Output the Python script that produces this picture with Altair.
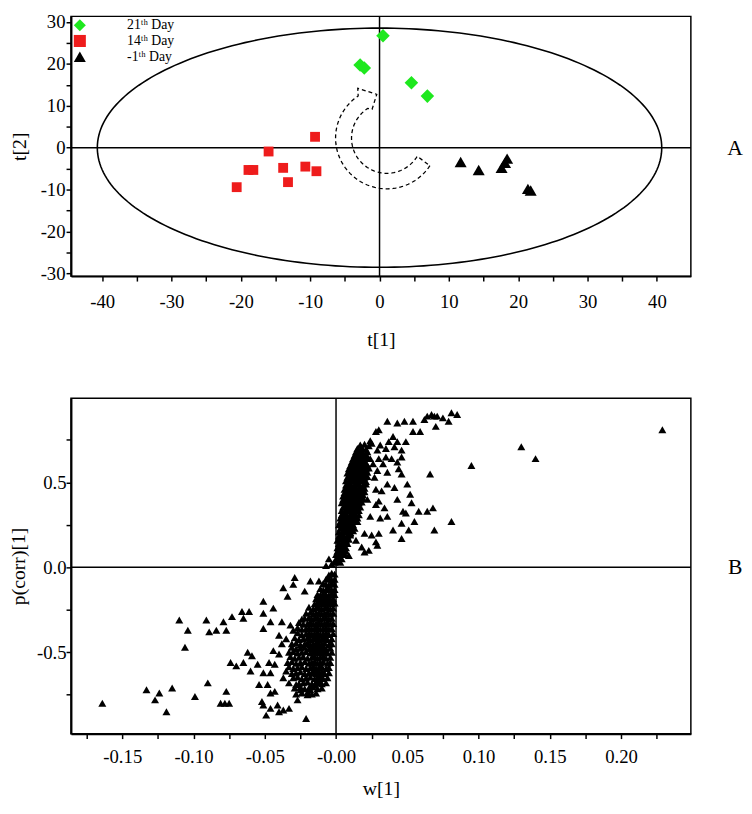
import altair as alt
import numpy as np
import pandas as pd

FONT = "Liberation Serif"

# ---------------- Panel A : score plot ----------------
groups = ["21ᵗʰ Day", "14ᵗʰ Day", "-1ᵗʰ Day"]
group_colors = ["#1ee81e", "#ee1c1c", "#000000"]
group_shapes = ["diamond", "square", "triangle-up"]
group_sizes = [190, 100, 150]

day21_t1 = [-2.8, -2.2, 0.5, 4.6, 6.9]
day21_t2 = [19.7, 19.0, 26.7, 15.5, 12.3]
day14_t1 = [-9.3, -16.0, -18.9, -18.2, -13.9, -10.7, -9.1, -13.2, -20.6]
day14_t2 = [2.6, -0.9, -5.3, -5.3, -4.8, -4.5, -5.6, -8.2, -9.4]
daym1_t1 = [11.7, 14.3, 18.4, 18.1, 17.6, 21.4, 21.8]
daym1_t2 = [-3.4, -5.3, -2.6, -3.6, -4.8, -9.8, -10.2]

t1_domain = [-44.5, 44.9]
t2_domain = [-30.6, 31.3]
t1_ticks = [-40, -35, -30, -25, -20, -15, -10, -5, 0, 5, 10, 15, 20, 25, 30, 35, 40]
t1_label_values = [-40, -30, -20, -10, 0, 10, 20, 30, 40]
t1_labels = ["-40", "-30", "-20", "-10", "0", "10", "20", "30", "40"]
t2_ticks = [-30, -25, -20, -15, -10, -5, 0, 5, 10, 15, 20, 25, 30]
t2_label_values = [-30, -20, -10, 0, 10, 20, 30]
t2_labels = ["-30", "-20", "-10", "0", "10", "20", "30"]

# Hotelling T2 ellipse radii
ellipse_rx = 40.7
ellipse_ry = 28.5

# dashed curved arrow (centre and radii in t1/t2 units)
arrow_center = (1.06, 2.3)
arrow_outer = (7.4, 12.1)
arrow_inner = (5.1, 8.4)
arrow_head_out = (8.4, 13.7)
arrow_head_tip = (6.5, 10.7)
arrow_head_in = (4.7, 7.7)

# ---------------- Panel B : loading plot (w[1], p(corr)[1]) ----------------
upper_scatter = [
    (0.036, 0.86), (0.043, 0.85), (0.048, 0.86), (0.054, 0.86), (0.062, 0.87), (0.064, 0.89),
    (0.067, 0.90), (0.069, 0.89), (0.071, 0.89), (0.075, 0.88), (0.079, 0.86), (0.081, 0.91),
    (0.085, 0.90), (0.070, 0.83), (0.054, 0.80), (0.059, 0.80), (0.030, 0.81), (0.040, 0.77),
    (0.037, 0.74), (0.043, 0.74), (0.049, 0.74), (0.031, 0.72), (0.041, 0.71), (0.046, 0.69),
    (0.035, 0.65), (0.039, 0.64), (0.046, 0.65), (0.030, 0.64), (0.043, 0.62), (0.033, 0.61),
    (0.044, 0.58), (0.046, 0.55), (0.066, 0.55), (0.095, 0.60), (0.130, 0.71), (0.140, 0.64),
    (0.229, 0.81), (0.029, 0.57), (0.036, 0.56), (0.050, 0.49), (0.041, 0.47), (0.032, 0.45),
    (0.052, 0.43), (0.043, 0.40), (0.030, 0.39), (0.053, 0.38), (0.049, 0.32), (0.058, 0.33),
    (0.064, 0.33), (0.068, 0.35), (0.036, 0.30), (0.031, 0.29), (0.055, 0.27), (0.046, 0.26),
    (0.081, 0.27), (0.040, 0.22), (0.051, 0.22), (0.069, 0.22), (0.046, 0.17), (0.030, 0.20),
    (0.029, 0.13), (0.028, 0.80), (0.025, 0.73), (0.029, 0.69), (0.035, 0.70), (0.016, 0.64),
    (0.022, 0.65), (0.018, 0.63), (0.026, 0.61), (0.027, 0.53), (0.036, 0.49), (0.028, 0.46),
    (0.022, 0.40), (0.028, 0.37), (0.034, 0.35), (0.047, 0.33), (0.024, 0.30), (0.014, 0.16),
    (0.018, 0.12), (0.023, 0.10), (0.028, 0.15), (0.025, 0.19), (0.020, 0.09), (0.009, 0.07),
    (0.010, 0.20), (0.020, 0.20), (-0.007, 0.01), (-0.005, 0.05), (-0.003, 0.02),
]
upper_core = [
    (-0.001, 0.03), (0.001, 0.035), (0.003, 0.03),
    (0.000, 0.05), (0.002, 0.055), (0.004, 0.05),
    (0.000, 0.075), (0.002, 0.07), (0.004, 0.08), (0.006, 0.075),
    (0.001, 0.095), (0.003, 0.10), (0.005, 0.09), (0.007, 0.095),
    (0.001, 0.115), (0.003, 0.12), (0.005, 0.11), (0.007, 0.115),
    (0.002, 0.14), (0.004, 0.135), (0.006, 0.145), (0.008, 0.14),
    (0.001, 0.16), (0.003, 0.165), (0.005, 0.155), (0.007, 0.16), (0.009, 0.165),
    (0.002, 0.185), (0.004, 0.19), (0.006, 0.18), (0.008, 0.185), (0.010, 0.19),
    (0.002, 0.21), (0.004, 0.205), (0.006, 0.215), (0.008, 0.21), (0.010, 0.205), (0.012, 0.215),
    (0.003, 0.23), (0.005, 0.235), (0.007, 0.225), (0.009, 0.23), (0.011, 0.235), (0.013, 0.23),
    (0.002, 0.25), (0.004, 0.255), (0.006, 0.245), (0.008, 0.25), (0.010, 0.255), (0.012, 0.25),
    (0.003, 0.27), (0.005, 0.265), (0.007, 0.275), (0.009, 0.27), (0.011, 0.265), (0.013, 0.275), (0.015, 0.27),
    (0.003, 0.29), (0.005, 0.295), (0.007, 0.285), (0.009, 0.29), (0.011, 0.295), (0.013, 0.285), (0.015, 0.29),
    (0.004, 0.31), (0.006, 0.315), (0.008, 0.305), (0.010, 0.31), (0.012, 0.315), (0.014, 0.305), (0.016, 0.31),
    (0.004, 0.335), (0.006, 0.33), (0.008, 0.34), (0.010, 0.335), (0.012, 0.33), (0.014, 0.34), (0.016, 0.335),
    (0.005, 0.355), (0.007, 0.36), (0.009, 0.35), (0.011, 0.355), (0.013, 0.36), (0.015, 0.35), (0.017, 0.355),
    (0.004, 0.38), (0.006, 0.385), (0.008, 0.375), (0.010, 0.38), (0.012, 0.385), (0.014, 0.375), (0.016, 0.38), (0.018, 0.385),
    (0.005, 0.40), (0.007, 0.405), (0.009, 0.395), (0.011, 0.40), (0.013, 0.405), (0.015, 0.395), (0.017, 0.40), (0.019, 0.405),
    (0.005, 0.42), (0.007, 0.425), (0.009, 0.415), (0.011, 0.42), (0.013, 0.425), (0.015, 0.415), (0.017, 0.42), (0.019, 0.425),
    (0.006, 0.44), (0.008, 0.445), (0.010, 0.435), (0.012, 0.44), (0.014, 0.445), (0.016, 0.435), (0.018, 0.44), (0.020, 0.445),
    (0.006, 0.46), (0.008, 0.465), (0.010, 0.455), (0.012, 0.46), (0.014, 0.465), (0.016, 0.455), (0.018, 0.46), (0.020, 0.465),
    (0.007, 0.485), (0.009, 0.49), (0.011, 0.48), (0.013, 0.485), (0.015, 0.49), (0.017, 0.48), (0.019, 0.485), (0.021, 0.49),
    (0.007, 0.51), (0.009, 0.505), (0.011, 0.515), (0.013, 0.51), (0.015, 0.505), (0.017, 0.515), (0.019, 0.51), (0.021, 0.505),
    (0.008, 0.53), (0.010, 0.535), (0.012, 0.525), (0.014, 0.53), (0.016, 0.535), (0.018, 0.525), (0.020, 0.53), (0.022, 0.535),
    (0.008, 0.555), (0.010, 0.56), (0.012, 0.55), (0.014, 0.555), (0.016, 0.56), (0.018, 0.55), (0.020, 0.555), (0.022, 0.56),
    (0.009, 0.58), (0.011, 0.585), (0.013, 0.575), (0.015, 0.58), (0.017, 0.585), (0.019, 0.575), (0.021, 0.58), (0.023, 0.585),
    (0.010, 0.60), (0.012, 0.605), (0.014, 0.595), (0.016, 0.60), (0.018, 0.605), (0.020, 0.595), (0.022, 0.60),
    (0.011, 0.62), (0.013, 0.625), (0.015, 0.615), (0.017, 0.62), (0.019, 0.625), (0.021, 0.615),
    (0.012, 0.64), (0.014, 0.645), (0.016, 0.635), (0.018, 0.64), (0.020, 0.645), (0.024, 0.64),
    (0.013, 0.66), (0.015, 0.665), (0.017, 0.655), (0.019, 0.66), (0.021, 0.665),
    (0.014, 0.68), (0.017, 0.685), (0.019, 0.675), (0.022, 0.68),
    (0.015, 0.70), (0.018, 0.705), (0.021, 0.695),
    (0.017, 0.72), (0.020, 0.725), (0.023, 0.715), (0.024, 0.745),
]
lower_core = [
    (-0.001, -0.04), (-0.003, -0.035), (-0.005, -0.045),
    (-0.001, -0.07), (-0.003, -0.075), (-0.005, -0.065), (-0.007, -0.07),
    (-0.001, -0.10), (-0.003, -0.095), (-0.005, -0.105), (-0.007, -0.10), (-0.009, -0.095),
    (-0.001, -0.13), (-0.003, -0.135), (-0.005, -0.125), (-0.007, -0.13), (-0.009, -0.135), (-0.011, -0.125),
    (-0.001, -0.16), (-0.003, -0.155), (-0.005, -0.165), (-0.007, -0.16), (-0.009, -0.155), (-0.011, -0.165), (-0.013, -0.16),
    (-0.002, -0.185), (-0.004, -0.19), (-0.006, -0.18), (-0.008, -0.185), (-0.010, -0.19), (-0.012, -0.18), (-0.014, -0.185),
    (-0.001, -0.21), (-0.003, -0.215), (-0.005, -0.205), (-0.007, -0.21), (-0.009, -0.215), (-0.011, -0.205), (-0.013, -0.21), (-0.015, -0.215),
    (-0.002, -0.24), (-0.004, -0.245), (-0.006, -0.235), (-0.008, -0.24), (-0.010, -0.245), (-0.012, -0.235), (-0.014, -0.24), (-0.016, -0.245), (-0.019, -0.235),
    (-0.002, -0.27), (-0.004, -0.275), (-0.006, -0.265), (-0.008, -0.27), (-0.010, -0.275), (-0.012, -0.265), (-0.014, -0.27), (-0.016, -0.275), (-0.018, -0.265), (-0.021, -0.27),
    (-0.003, -0.30), (-0.005, -0.305), (-0.007, -0.295), (-0.009, -0.30), (-0.011, -0.305), (-0.013, -0.295), (-0.015, -0.30), (-0.017, -0.305), (-0.019, -0.295), (-0.022, -0.30), (-0.024, -0.305),
    (-0.002, -0.33), (-0.004, -0.335), (-0.006, -0.325), (-0.008, -0.33), (-0.010, -0.335), (-0.012, -0.325), (-0.014, -0.33), (-0.016, -0.335), (-0.018, -0.325), (-0.020, -0.33), (-0.023, -0.335), (-0.026, -0.325),
    (-0.003, -0.36), (-0.005, -0.365), (-0.007, -0.355), (-0.009, -0.36), (-0.011, -0.365), (-0.013, -0.355), (-0.015, -0.36), (-0.017, -0.365), (-0.019, -0.355), (-0.021, -0.36), (-0.024, -0.365), (-0.027, -0.355),
    (-0.002, -0.39), (-0.005, -0.395), (-0.007, -0.385), (-0.009, -0.39), (-0.011, -0.395), (-0.013, -0.385), (-0.015, -0.39), (-0.017, -0.395), (-0.019, -0.385), (-0.021, -0.39), (-0.024, -0.395), (-0.027, -0.385),
    (-0.003, -0.42), (-0.006, -0.425), (-0.008, -0.415), (-0.010, -0.42), (-0.012, -0.425), (-0.014, -0.415), (-0.016, -0.42), (-0.018, -0.425), (-0.020, -0.415), (-0.023, -0.42), (-0.026, -0.425), (-0.029, -0.415),
    (-0.003, -0.45), (-0.005, -0.455), (-0.008, -0.445), (-0.010, -0.45), (-0.012, -0.455), (-0.014, -0.445), (-0.016, -0.45), (-0.018, -0.455), (-0.020, -0.445), (-0.022, -0.45), (-0.025, -0.455), (-0.028, -0.445), (-0.031, -0.45),
    (-0.004, -0.475), (-0.007, -0.48), (-0.009, -0.47), (-0.011, -0.475), (-0.013, -0.48), (-0.015, -0.47), (-0.017, -0.475), (-0.019, -0.48), (-0.022, -0.47), (-0.025, -0.475), (-0.028, -0.48), (-0.031, -0.47),
    (-0.003, -0.50), (-0.006, -0.505), (-0.008, -0.495), (-0.010, -0.50), (-0.012, -0.505), (-0.014, -0.495), (-0.016, -0.50), (-0.018, -0.505), (-0.021, -0.495), (-0.024, -0.50), (-0.027, -0.505), (-0.030, -0.495), (-0.033, -0.50),
    (-0.004, -0.53), (-0.007, -0.535), (-0.009, -0.525), (-0.011, -0.53), (-0.013, -0.535), (-0.015, -0.525), (-0.017, -0.53), (-0.020, -0.535), (-0.023, -0.525), (-0.026, -0.53), (-0.029, -0.535), (-0.032, -0.525),
    (-0.004, -0.56), (-0.006, -0.565), (-0.009, -0.555), (-0.011, -0.56), (-0.013, -0.565), (-0.015, -0.555), (-0.017, -0.56), (-0.019, -0.565), (-0.022, -0.555), (-0.025, -0.56), (-0.028, -0.565), (-0.031, -0.555), (-0.034, -0.56),
    (-0.005, -0.59), (-0.007, -0.595), (-0.010, -0.585), (-0.012, -0.59), (-0.014, -0.595), (-0.016, -0.585), (-0.018, -0.59), (-0.021, -0.595), (-0.024, -0.585), (-0.027, -0.59), (-0.030, -0.595), (-0.033, -0.585),
    (-0.005, -0.62), (-0.008, -0.625), (-0.010, -0.615), (-0.012, -0.62), (-0.014, -0.625), (-0.016, -0.615), (-0.019, -0.62), (-0.022, -0.625), (-0.025, -0.615), (-0.028, -0.62), (-0.031, -0.625),
    (-0.006, -0.65), (-0.009, -0.655), (-0.011, -0.645), (-0.013, -0.65), (-0.015, -0.655), (-0.018, -0.645), (-0.021, -0.65), (-0.024, -0.655), (-0.027, -0.645), (-0.030, -0.65),
    (-0.007, -0.68), (-0.010, -0.685), (-0.012, -0.675), (-0.014, -0.68), (-0.017, -0.685), (-0.020, -0.675), (-0.023, -0.68), (-0.026, -0.685),
    (-0.010, -0.71), (-0.013, -0.715), (-0.016, -0.705), (-0.019, -0.71), (-0.022, -0.715), (-0.025, -0.705), (-0.029, -0.71),
    (-0.014, -0.74), (-0.017, -0.745), (-0.020, -0.735), (-0.024, -0.74), (-0.028, -0.745),
]
lower_scatter = [
    (-0.164, -0.80), (-0.133, -0.72), (-0.127, -0.78), (-0.124, -0.74), (-0.119, -0.85), (-0.115, -0.71),
    (-0.099, -0.76), (-0.090, -0.68), (-0.081, -0.80), (-0.078, -0.80), (-0.075, -0.80), (-0.077, -0.73),
    (-0.110, -0.31), (-0.104, -0.37), (-0.106, -0.47), (-0.091, -0.31), (-0.089, -0.38), (-0.084, -0.37),
    (-0.079, -0.32), (-0.077, -0.37), (-0.073, -0.29), (-0.066, -0.26), (-0.065, -0.30), (-0.061, -0.26),
    (-0.074, -0.56), (-0.070, -0.58), (-0.065, -0.56), (-0.062, -0.50), (-0.059, -0.52), (-0.055, -0.57),
    (-0.060, -0.61), (-0.051, -0.20), (-0.051, -0.27), (-0.044, -0.24), (-0.051, -0.36), (-0.046, -0.32),
    (-0.038, -0.32), (-0.037, -0.12), (-0.034, -0.17), (-0.029, -0.06), (-0.030, -0.10), (-0.018, -0.08),
    (-0.022, -0.14), (-0.012, -0.08), (-0.054, -0.69), (-0.048, -0.69), (-0.046, -0.74), (-0.043, -0.73),
    (-0.052, -0.79), (-0.051, -0.81), (-0.046, -0.83), (-0.041, -0.81), (-0.040, -0.85), (-0.037, -0.84),
    (-0.033, -0.83), (-0.049, -0.87), (-0.027, -0.78), (-0.021, -0.89), (-0.020, -0.75), (-0.051, -0.62),
    (-0.046, -0.62), (-0.043, -0.57), (-0.040, -0.51), (-0.047, -0.56), (-0.044, -0.49), (-0.037, -0.65),
    (-0.033, -0.68), (-0.035, -0.61), (-0.028, -0.69), (-0.025, -0.72), (-0.018, -0.72), (-0.015, -0.69),
    (-0.013, -0.61), (-0.017, -0.62), (-0.038, -0.45), (-0.040, -0.40), (-0.035, -0.42), (-0.032, -0.34),
    (-0.030, -0.37),
]

w_domain = [-0.186, 0.249]
p_domain = [-0.979, 0.996]
w_ticks = [-0.175, -0.15, -0.125, -0.1, -0.075, -0.05, -0.025, 0.0, 0.025, 0.05, 0.075, 0.1, 0.125, 0.15, 0.175, 0.2, 0.225]
w_label_values = [-0.15, -0.1, -0.05, 0.0, 0.05, 0.1, 0.15, 0.2]
w_labels = ["-0.15", "-0.10", "-0.05", "-0.00", "0.05", "0.10", "0.15", "0.20"]
p_ticks = [-0.75, -0.5, -0.25, 0.0, 0.25, 0.5, 0.75]
p_label_values = [-0.5, 0.0, 0.5]
p_labels = ["-0.5", "0.0", "0.5"]


def label_expr(values, labels):
    parts = [f"abs(datum.value - ({v})) < 1e-6 ? '{l}'" for v, l in zip(values, labels)]
    return " : ".join(parts) + " : ''"


# ---------------- build tables ----------------
dfA = pd.DataFrame({
    "t1": day21_t1 + day14_t1 + daym1_t1,
    "t2": day21_t2 + day14_t2 + daym1_t2,
    "group": [groups[0]] * len(day21_t1) + [groups[1]] * len(day14_t1) + [groups[2]] * len(daym1_t1),
})

theta = np.linspace(0, 2 * np.pi, 241)
df_ell = pd.DataFrame({"t1": ellipse_rx * np.cos(theta), "t2": ellipse_ry * np.sin(theta), "o": np.arange(len(theta))})


def arc_pt(r, phi):
    a = np.deg2rad(phi)
    return (arrow_center[0] + r[0] * np.cos(a), arrow_center[1] - r[1] * np.sin(a))


arrow_pts = [arc_pt(arrow_outer, ph) for ph in np.linspace(33, 236, 70)]
arrow_pts += [arc_pt(arrow_head_out, 240), arc_pt(arrow_head_tip, 257), arc_pt(arrow_head_in, 243)]
arrow_pts += [arc_pt(arrow_inner, ph) for ph in np.linspace(237, 31, 70)]
arrow_pts += [arrow_pts[0]]
df_arrow = pd.DataFrame({"t1": [p[0] for p in arrow_pts], "t2": [p[1] for p in arrow_pts], "o": np.arange(len(arrow_pts))})

all_load = upper_scatter + upper_core + lower_core + lower_scatter
dfB = pd.DataFrame({"w": [p[0] for p in all_load], "p": [p[1] for p in all_load]})

# ---------------- Panel A chart ----------------
xA = alt.X("t1:Q", scale=alt.Scale(domain=t1_domain, nice=False, zero=False),
           axis=alt.Axis(title="t[1]", values=t1_ticks, labelExpr=label_expr(t1_label_values, t1_labels),
                         labelPadding=12, titlePadding=18))
yA = alt.Y("t2:Q", scale=alt.Scale(domain=t2_domain, nice=False, zero=False),
           axis=alt.Axis(title="t[2]", values=t2_ticks, labelExpr=label_expr(t2_label_values, t2_labels),
                         labelPadding=1, titlePadding=11))

legA = alt.Legend(title=None, orient="none", legendX=2, legendY=2, labelFont=FONT, labelFontSize=14,
                  labelColor="black", labelOffset=41, symbolSize=150, rowPadding=2, padding=0,
                  symbolStrokeWidth=0)
colorA = alt.Color("group:N", scale=alt.Scale(domain=groups, range=group_colors), legend=legA)
shapeA = alt.Shape("group:N", scale=alt.Scale(domain=groups, range=group_shapes), legend=legA)

ellipse = alt.Chart(df_ell).mark_line(color="black", strokeWidth=1.6).encode(x=xA, y=yA, order="o:Q")
vrule = alt.Chart(pd.DataFrame({"t1": [0]})).mark_rule(color="black", strokeWidth=1.5).encode(x=xA)
hrule = alt.Chart(pd.DataFrame({"t2": [0]})).mark_rule(color="black", strokeWidth=1.5).encode(y=yA)
arrow = alt.Chart(df_arrow).mark_line(color="black", strokeWidth=1.3, strokeDash=[4, 3]).encode(
    x=xA, y=yA, order="o:Q")
point_layers = [
    alt.Chart(dfA[dfA["group"] == g]).mark_point(filled=True, opacity=1, size=s).encode(
        x=xA, y=yA, color=colorA, shape=shapeA)
    for g, s in zip(groups, group_sizes)
]
textA = alt.Chart(pd.DataFrame({"lab": ["A"]})).mark_text(font=FONT, fontSize=22, color="black").encode(
    x=alt.value(675), y=alt.value(134), text="lab:N")

top = alt.layer(ellipse, vrule, hrule, arrow, *point_layers, textA).properties(width=630, height=264)

# ---------------- Panel B chart ----------------
xB = alt.X("w:Q", scale=alt.Scale(domain=w_domain, nice=False, zero=False),
           axis=alt.Axis(title="w[1]", values=w_ticks, labelExpr=label_expr(w_label_values, w_labels),
                         labelPadding=9, titlePadding=13))
yB = alt.Y("p:Q", scale=alt.Scale(domain=p_domain, nice=False, zero=False),
           axis=alt.Axis(title="p(corr)[1]", values=p_ticks, labelExpr=label_expr(p_label_values, p_labels),
                         labelPadding=0, titlePadding=8))

pointsB = alt.Chart(dfB).mark_point(shape="triangle-up", filled=True, color="black", opacity=1, size=66).encode(
    x=xB, y=yB)
vruleB = alt.Chart(pd.DataFrame({"w": [0]})).mark_rule(color="black", strokeWidth=1.5).encode(x=xB)
hruleB = alt.Chart(pd.DataFrame({"p": [0]})).mark_rule(color="black", strokeWidth=1.5).encode(y=yB)
textB = alt.Chart(pd.DataFrame({"lab": ["B"]})).mark_text(font=FONT, fontSize=22, color="black").encode(
    x=alt.value(675), y=alt.value(171.5), text="lab:N")

bottom = alt.layer(vruleB, hruleB, pointsB, textB).properties(width=630, height=341)

chart = alt.vconcat(top, bottom, spacing=47).properties(
    padding={"left": 0, "top": -3, "right": 0, "bottom": 0},
    background="white",
).configure_view(stroke="black", strokeWidth=1.5).configure_axis(
    grid=False, domainColor="black", domainWidth=2, tickColor="black", tickWidth=1.5, tickSize=5,
    labelFont=FONT, labelFontSize=19, labelColor="black", titleFont=FONT, titleFontSize=20,
    titleFontWeight="normal", titleColor="black", labelFlush=False, labelOverlap=False,
)

chart.save("out.html", embed_options={"renderer": "svg", "actions": False})
